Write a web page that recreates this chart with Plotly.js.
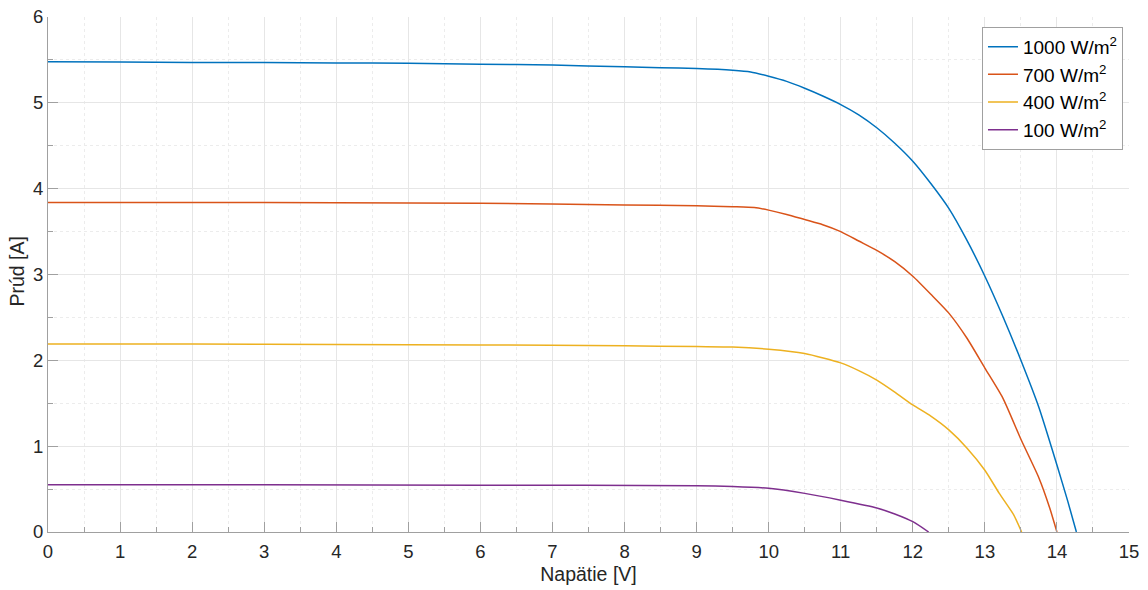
<!DOCTYPE html>
<html>
<head>
<meta charset="utf-8">
<script src="https://cdn.plot.ly/plotly-3.0.1.min.js"></script>
<style>html,body{margin:0;padding:0;background:#fff;}#chart{width:1148px;height:590px;}</style>
</head>
<body>
<div id="chart"></div>
<script>
const names = ['1000 W/m<sup>2</sup>', '700 W/m<sup>2</sup>', '400 W/m<sup>2</sup>', '100 W/m<sup>2</sup>'];
const colors = ['#0072BD', '#D95319', '#EDB120', '#7E2F8E'];

const v1000 = [0,1,2,3,4,5,6,7,8,8.5,9,9.5,9.75,10,10.25,10.5,10.75,11,11.25,11.5,11.75,12,12.25,12.5,12.75,13,13.25,13.5,13.75,14,14.15,14.27];
const i1000 = [5.48,5.475,5.47,5.47,5.465,5.46,5.45,5.44,5.42,5.41,5.40,5.38,5.36,5.31,5.25,5.17,5.08,4.98,4.86,4.71,4.53,4.32,4.06,3.77,3.40,2.98,2.51,2.00,1.45,0.78,0.36,0];

const v700 = [0,2,4,6,8,9,9.5,9.8,10,10.25,10.5,10.75,11,11.25,11.5,11.75,12,12.25,12.5,12.75,13,13.25,13.5,13.75,13.9,14.0];
const i700 = [3.84,3.84,3.835,3.83,3.81,3.80,3.79,3.78,3.75,3.70,3.64,3.58,3.50,3.39,3.28,3.15,2.98,2.77,2.55,2.26,1.91,1.56,1.08,0.63,0.28,0];

const v400 = [0,2,4,6,8,9,9.5,10,10.5,11,11.25,11.5,11.75,12,12.25,12.5,12.75,13,13.2,13.4,13.51];
const i400 = [2.19,2.19,2.185,2.18,2.17,2.16,2.155,2.13,2.08,1.97,1.88,1.77,1.63,1.48,1.35,1.19,0.98,0.72,0.45,0.20,0];

const v100 = [0,3,6,9,9.5,10,10.5,11,11.5,11.75,12,12.22];
const i100 = [0.55,0.55,0.545,0.54,0.53,0.51,0.45,0.37,0.28,0.21,0.12,0];

const xs = [v1000, v700, v400, v100];
const ys = [i1000, i700, i400, i100];

const traces = xs.map((x, k) => ({
  x: x, y: ys[k], type: 'scatter', mode: 'lines', name: names[k],
  line: {color: colors[k], width: 1.5, shape: 'spline', smoothing: 0.6}
}));

const fontFam = '"Liberation Sans", Arial, sans-serif';
const axisCommon = {
  showline: true, linecolor: '#a0a0a0', linewidth: 1, mirror: false,
  ticks: 'inside', ticklen: 10, tickcolor: '#a0a0a0', tickwidth: 1,
  showgrid: true, gridcolor: '#e6e6e6', gridwidth: 1,
  zeroline: false,
  tickfont: {family: fontFam, size: 18.5, color: '#262626'},
  minor: {dtick: 0.5, showgrid: true, gridcolor: '#ececec', griddash: 'dot', ticks: 'inside', ticklen: 5, tickcolor: '#a0a0a0'}
};

const layout = {
  width: 1148, height: 590,
  margin: {l: 48, r: 19, t: 17, b: 58},
  paper_bgcolor: '#fff', plot_bgcolor: '#fff',
  font: {family: fontFam, color: '#262626'},
  xaxis: Object.assign({}, axisCommon, {
    range: [0, 15], dtick: 1, tick0: 0, ticklabelstandoff: 3,
    title: {text: 'Napätie [V]', font: {family: fontFam, size: 19.5, color: '#262626'}, standoff: 6}
  }),
  yaxis: Object.assign({}, axisCommon, {
    range: [0, 6], dtick: 1, tick0: 0
  }),
  annotations: [{
    text: 'Prúd [A]', xref: 'paper', yref: 'paper',
    x: -(48 - 16) / 1081, y: (532 - 271.5) / 515,
    xanchor: 'center', yanchor: 'middle', textangle: -90, showarrow: false,
    font: {family: fontFam, size: 19.5, color: '#262626'}
  }],
  legend: {
    x: 0.864, y: 0.981, xanchor: 'left', yanchor: 'top',
    bgcolor: '#fff', bordercolor: '#a0a0a0', borderwidth: 1,
    font: {family: fontFam, size: 19, color: '#000'},
    tracegroupgap: 0, itemwidth: 30
  },
  showlegend: true
};

Plotly.newPlot('chart', traces, layout, {displayModeBar: false, staticPlot: true});
</script>
</body>
</html>
